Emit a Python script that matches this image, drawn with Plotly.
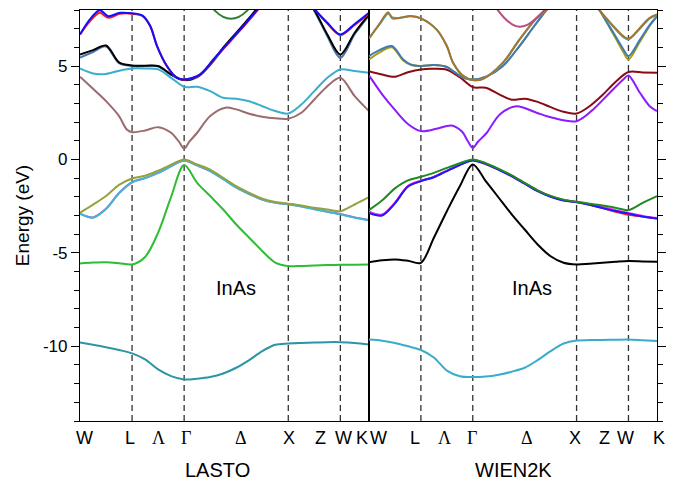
import plotly.graph_objects as go

# ---------------- k-path (x positions of high-symmetry points) ----------------
K_MAX = 5.55
SYM_LINES = [1, 2, 4, 5]                     # L, Gamma, X, W (dashed lines)
K_STD = [0, 0.25, 0.5, 0.75, 1, 1.25, 1.5, 1.75, 2, 2.25, 2.5, 2.75, 3,
         3.25, 3.5, 3.75, 4, 4.25, 4.5, 4.75, 5, 5.275, 5.55]

PATH_LABELS = ["W", "L", "Λ", "Γ", "Δ", "X", "Z", "W", "K"]
LASTO_LABEL_POS = [0.09, 0.96, 1.51, 2.03, 3.1, 4.02, 4.62, 5.06, 5.42]
WIEN_LABEL_POS = [0.19, 0.89, 1.45, 1.98, 3.05, 3.97, 4.54, 4.95, 5.59]

Y_TICKS = [-10, -5, 0, 5]
Y_TICKTEXT = ["-10", "-5", "0", "5"]

# ---------------- LASTO bands (eV) ----------------
LASTO_S = [-9.8, -9.92, -10.05, -10.2, -10.38, -10.7, -11.24, -11.6, -11.78, -11.74,
           -11.65, -11.46, -11.15, -10.74, -10.26, -9.92, -9.85, -9.82, -9.8, -9.78,
           -9.78, -9.82, -9.9]
LASTO_GREEN = [-5.57, -5.52, -5.5, -5.55, -5.62, -5.22, -3.92, -2.0, -0.3, -1.25,
               -1.96, -2.68, -3.48, -4.19, -4.9, -5.52, -5.71, -5.7, -5.67, -5.65,
               -5.64, -5.63, -5.62]
LASTO_OLIVE = [-2.85, -2.42, -1.96, -1.36, -1.02, -0.87, -0.6, -0.28, 0.0, -0.27,
               -0.54, -0.98, -1.43, -1.79, -2.1, -2.28, -2.37, -2.46, -2.59, -2.68,
               -2.77, -2.41, -2.02]
LASTO_MAGENTA = [-2.9, -3.1, -2.64, -1.8, -1.22, -1.0, -0.72, -0.36, -0.05, -0.32,
                 -0.62, -1.04, -1.49, -1.84, -2.14, -2.31, -2.39, -2.51, -2.65, -2.8,
                 -2.92, -3.1, -3.24]
LASTO_CYAN_V = [-2.9, -3.12, -2.65, -1.8, -1.21, -1.0, -0.72, -0.36, -0.05, -0.32,
                -0.62, -1.05, -1.5, -1.85, -2.15, -2.32, -2.4, -2.52, -2.66, -2.8,
                -2.94, -3.12, -3.25]
LASTO_ROSE_K = [0, 0.25, 0.5, 0.75, 0.9, 1, 1.25, 1.5, 1.75, 1.9, 2, 2.1, 2.25, 2.5,
                2.79, 3, 3.25, 3.5, 3.75, 4, 4.25, 4.5, 4.75, 5, 5.275, 5.55]
LASTO_ROSE = [4.43, 3.78, 3.12, 2.32, 1.6, 1.46, 1.55, 1.73, 1.43, 0.95, 0.57, 0.95,
              1.43, 2.32, 2.77, 2.68, 2.45, 2.29, 2.2, 2.18, 2.5, 3.21, 3.92, 4.37,
              3.39, 2.59]
LASTO_CYAN_C = [4.87, 4.6, 4.58, 4.75, 4.87, 4.87, 4.82, 4.37, 3.89, 3.89, 3.66, 3.3,
                3.25, 3.12, 2.85, 2.59, 2.46, 2.94, 3.66, 4.37, 4.82, 4.73, 4.64]
LASTO_STEEL = [5.45, 5.75, 6.05, 5.15, 5.0, 5.0, 4.98, 4.53, 4.25, 4.4, 5.05, 5.93,
               6.73, 7.53, 8.35, 9.0, 9.3, 9.0, 7.95, 6.6, 5.44, 6.7, 7.7]
LASTO_BLACK = [5.62, 5.85, 6.1, 5.2, 5.03, 5.02, 5.0, 4.55, 4.25, 4.43, 5.09, 5.98,
               6.78, 7.58, 8.4, 9.0, 9.3, 9.0, 8.0, 6.69, 5.62, 6.78, 7.76]
LASTO_TOP_K = [0, 0.19, 0.38, 0.54, 0.77, 1.0, 1.2, 1.35, 1.48, 1.67, 1.86, 2.0, 2.31,
               2.56, 2.82, 3.08, 3.4, 3.8, 4.2, 4.52, 4.75, 5.0, 5.275, 5.55]
LASTO_RED = [6.69, 7.4, 7.85, 7.58, 7.8, 7.8, 7.68, 7.12, 6.05, 4.98, 4.36, 4.27, 4.53,
             5.32, 6.12, 6.92, 7.95, 9.2, 9.3, 8.0, 7.28, 6.66, 7.2, 7.82]
LASTO_BLUE = [6.69, 7.5, 7.99, 7.67, 7.85, 7.82, 7.7, 7.14, 6.07, 5.0, 4.37, 4.28, 4.55,
              5.35, 6.16, 6.96, 8.0, 9.2, 9.3, 8.0, 7.32, 6.69, 7.25, 7.85]
LASTO_DKGREEN_K = [2.45, 2.6, 2.75, 2.9, 3.05, 3.2, 3.35]
LASTO_DKGREEN = [8.46, 7.94, 7.63, 7.53, 7.63, 7.94, 8.46]

# ---------------- WIEN2K bands (eV) ----------------
WIEN_S = [-9.64, -9.7, -9.82, -10.0, -10.2, -10.6, -11.3, -11.6, -11.65, -11.62,
          -11.52, -11.36, -11.15, -10.74, -10.26, -9.85, -9.69, -9.67, -9.66, -9.65,
          -9.64, -9.68, -9.72]
WIEN_BLACK = [-5.5, -5.4, -5.35, -5.42, -5.53, -4.19, -2.77, -1.43, -0.27, -1.16,
              -2.05, -2.94, -3.75, -4.55, -5.18, -5.53, -5.62, -5.58, -5.53, -5.48,
              -5.44, -5.46, -5.48]
WIEN_RED = [-2.84, -2.98, -2.33, -1.44, -1.15, -0.94, -0.61, -0.29, -0.04, -0.24,
            -0.54, -0.88, -1.28, -1.68, -1.98, -2.18, -2.28, -2.43, -2.6, -2.8,
            -2.96, -3.06, -3.16]
WIEN_MAGENTA = [-2.8, -2.95, -2.32, -1.42, -1.14, -0.93, -0.6, -0.28, -0.03, -0.23,
                -0.53, -0.87, -1.27, -1.67, -1.97, -2.17, -2.27, -2.4, -2.54, -2.72,
                -2.86, -3.02, -3.14]
WIEN_BLUE = [-2.86, -3.0, -2.35, -1.45, -1.16, -0.95, -0.62, -0.3, -0.05, -0.25,
             -0.55, -0.9, -1.3, -1.7, -2.0, -2.2, -2.29, -2.43, -2.6, -2.76,
             -2.9, -3.05, -3.16]
WIEN_GREEN = [-2.71, -2.2, -1.55, -1.12, -0.93, -0.72, -0.45, -0.2, 0.0, -0.2,
              -0.5, -0.85, -1.25, -1.65, -1.95, -2.15, -2.27, -2.37, -2.46, -2.58,
              -2.71, -2.32, -1.96]
WIEN_PURPLE_K = [0, 0.25, 0.5, 0.75, 1, 1.3, 1.59, 1.8, 1.9, 2, 2.1, 2.27, 2.52, 2.84,
                 3.23, 3.54, 4, 4.32, 4.64, 4.9, 5, 5.22, 5.41, 5.55]
WIEN_PURPLE = [4.5, 3.5, 2.65, 1.9, 1.52, 1.64, 1.82, 1.47, 1.0, 0.62, 0.95, 1.43,
               2.41, 2.85, 2.5, 2.23, 2.05, 2.68, 3.57, 4.28, 4.5, 3.57, 2.85, 2.59]
WIEN_DRED = [4.73, 4.55, 4.43, 4.67, 4.82, 4.85, 4.8, 4.4, 3.87, 3.84, 3.5, 3.2,
             3.25, 3.08, 2.8, 2.55, 2.46, 2.85, 3.45, 4.15, 4.68, 4.66, 4.64]
WIEN_STEEL_K = [0, 0.2, 0.44, 0.66, 0.8, 1, 1.25, 1.5, 1.62, 1.82, 2, 2.27, 2.58, 2.9,
                3.16, 3.42, 3.7, 4.2, 4.44, 4.71, 4.9, 5, 5.22, 5.41, 5.55]
WIEN_STEEL = [5.53, 5.85, 6.07, 5.35, 5.09, 5.0, 5.05, 4.95, 4.73, 4.37, 4.28, 4.45,
              5.0, 6.07, 7.05, 8.0, 9.0, 9.0, 8.0, 6.78, 5.9, 5.53, 6.4, 7.2, 7.67]
WIEN_OLIVE = [5.35, 5.72, 6.0, 5.3, 5.07, 5.0, 5.05, 4.95, 4.73, 4.37, 4.28, 4.45,
              5.0, 6.07, 7.05, 8.0, 9.0, 9.0, 8.0, 6.7, 5.75, 5.35, 6.3, 7.15, 7.65]
WIEN_BROWN_K = [0, 0.2, 0.37, 0.45, 0.6, 0.8, 1, 1.3, 1.5, 1.62, 1.82, 2, 2.2, 2.58,
                2.9, 3.23, 3.42, 3.7, 4.2, 4.44, 4.71, 4.9, 5, 5.22, 5.41, 5.55]
WIEN_BROWN = [6.46, 7.25, 7.88, 7.55, 7.58, 7.68, 7.55, 6.96, 6.07, 5.18, 4.46, 4.25,
              4.32, 5.18, 6.43, 7.58, 8.0, 9.0, 9.0, 8.0, 7.14, 6.6, 6.46, 7.04, 7.58,
              7.76]
WIEN_CYAN_B = [6.5, 7.22, 7.8, 7.6, 7.58, 7.66, 7.55, 6.96, 6.07, 5.18, 4.46, 4.25,
               4.32, 5.16, 6.4, 7.55, 8.0, 9.0, 9.0, 8.0, 7.1, 6.55, 6.42, 7.0, 7.55,
               7.74]
WIEN_PINK_K = [2.4, 2.6, 2.75, 2.9, 3.05, 3.2, 3.45]
WIEN_PINK = [8.3, 7.6, 7.25, 7.1, 7.2, 7.5, 8.2]

# ---------------- figure ----------------
FONT = "Liberation Sans, Arial, sans-serif"
fig = go.Figure()


def band(k, e, color, panel):
    fig.add_trace(go.Scatter(
        x=k, y=e, mode="lines", line=dict(color=color, width=2, shape="spline", smoothing=0.9),
        xaxis="x" if panel == 1 else "x2", yaxis="y" if panel == 1 else "y2",
        showlegend=False, hoverinfo="skip"))


# LASTO (left)
band(K_STD, LASTO_S, "#2b96a3", 1)
band(K_STD, LASTO_GREEN, "#2dbd32", 1)
band(K_STD, LASTO_MAGENTA, "#d040c0", 1)
band(K_STD, LASTO_CYAN_V, "#40b6d6", 1)
band(K_STD, LASTO_OLIVE, "#93a33a", 1)
band(LASTO_ROSE_K, LASTO_ROSE, "#9b6b6e", 1)
band(K_STD, LASTO_CYAN_C, "#3aaecb", 1)
band(K_STD, LASTO_STEEL, "#4a74ad", 1)
band(K_STD, LASTO_BLACK, "#000000", 1)
band(LASTO_TOP_K, LASTO_RED, "#ff1a1a", 1)
band(LASTO_TOP_K, LASTO_BLUE, "#1010ff", 1)
band(LASTO_DKGREEN_K, LASTO_DKGREEN, "#2e7d32", 1)

# WIEN2K (right)
band(K_STD, WIEN_S, "#3aaccb", 2)
band(K_STD, WIEN_BLACK, "#000000", 2)
band(K_STD, WIEN_RED, "#ff2020", 2)
band(K_STD, WIEN_MAGENTA, "#ff20ff", 2)
band(K_STD, WIEN_BLUE, "#1a1aff", 2)
band(K_STD, WIEN_GREEN, "#1f8a1f", 2)
band(WIEN_PURPLE_K, WIEN_PURPLE, "#8a1cff", 2)
band(K_STD, WIEN_DRED, "#8b0a16", 2)
band(WIEN_STEEL_K, WIEN_OLIVE, "#a6a010", 2)
band(WIEN_STEEL_K, WIEN_STEEL, "#3f7ab5", 2)
band(WIEN_BROWN_K, WIEN_CYAN_B, "#3eb3c6", 2)
band(WIEN_BROWN_K, WIEN_BROWN, "#a8742c", 2)
band(WIEN_PINK_K, WIEN_PINK, "#b84e80", 2)

# dashed symmetry lines
for xr in ["x", "x2"]:
    for s in SYM_LINES:
        fig.add_shape(type="line", xref=xr, yref="paper", x0=s, x1=s, y0=0, y1=1,
                      line=dict(color="#333333", width=1.3, dash="6px,4px"), layer="below")


def label_text(t):
    if t in ("Λ", "Γ", "Δ"):
        return '<span style="font-family:Liberation Serif, Times New Roman, serif">' + t + '</span>'
    return t


annotations = []
for xr, positions in (("x domain", LASTO_LABEL_POS), ("x2 domain", WIEN_LABEL_POS)):
    for lab, p in zip(PATH_LABELS, positions):
        annotations.append(dict(text=label_text(lab), x=p / K_MAX, xref=xr, y=0, yref="paper",
                                xanchor="center", yanchor="middle", yshift=-17, showarrow=False,
                                font=dict(size=18, color="black", family=FONT)))
annotations.append(dict(text="LASTO", x=2.65 / K_MAX, xref="x domain", y=0, yref="paper",
                        xanchor="center", yanchor="middle", yshift=-49, showarrow=False,
                        font=dict(size=20, color="black", family=FONT)))
annotations.append(dict(text="WIEN2K", x=2.79 / K_MAX, xref="x2 domain", y=0, yref="paper",
                        xanchor="center", yanchor="middle", yshift=-49, showarrow=False,
                        font=dict(size=20, color="black", family=FONT)))
annotations.append(dict(text="InAs", x=2.99, xref="x", y=-6.9, yref="y", xanchor="center",
                        yanchor="middle", showarrow=False, font=dict(size=20, color="black", family=FONT)))
annotations.append(dict(text="InAs", x=3.14, xref="x2", y=-6.9, yref="y2", xanchor="center",
                        yanchor="middle", showarrow=False, font=dict(size=20, color="black", family=FONT)))

SPLIT = 289 / 577
xcommon = dict(range=[0, K_MAX], showgrid=False, zeroline=False, showline=True, mirror=True,
               linecolor="black", linewidth=1.2, ticks="", showticklabels=False)
ycommon = dict(range=[-14, 8], showgrid=False, zeroline=False, showline=True, mirror=True,
               linecolor="black", linewidth=1.2, tickvals=Y_TICKS, ticktext=Y_TICKTEXT,
               ticks="outside", ticklen=8, tickwidth=1.3, tickcolor="black",
               minor=dict(dtick=1, ticks="outside", ticklen=5, tickwidth=1.3, tickcolor="black"))

fig.update_layout(
    width=682, height=481,
    margin=dict(l=80, r=25, t=10, b=60),
    paper_bgcolor="white", plot_bgcolor="white",
    font=dict(family=FONT, size=17, color="black"),
    xaxis=dict(domain=[0, SPLIT], anchor="y", **xcommon),
    xaxis2=dict(domain=[SPLIT, 1], anchor="y2", **xcommon),
    yaxis=dict(anchor="x", title=dict(text="Energy (eV)", font=dict(size=19), standoff=8),
               tickfont=dict(size=17), **ycommon),
    yaxis2=dict(anchor="x2", side="right", showticklabels=False, matches="y", **ycommon),
    annotations=annotations,
    showlegend=False,
)

fig.write_html("out.html")
